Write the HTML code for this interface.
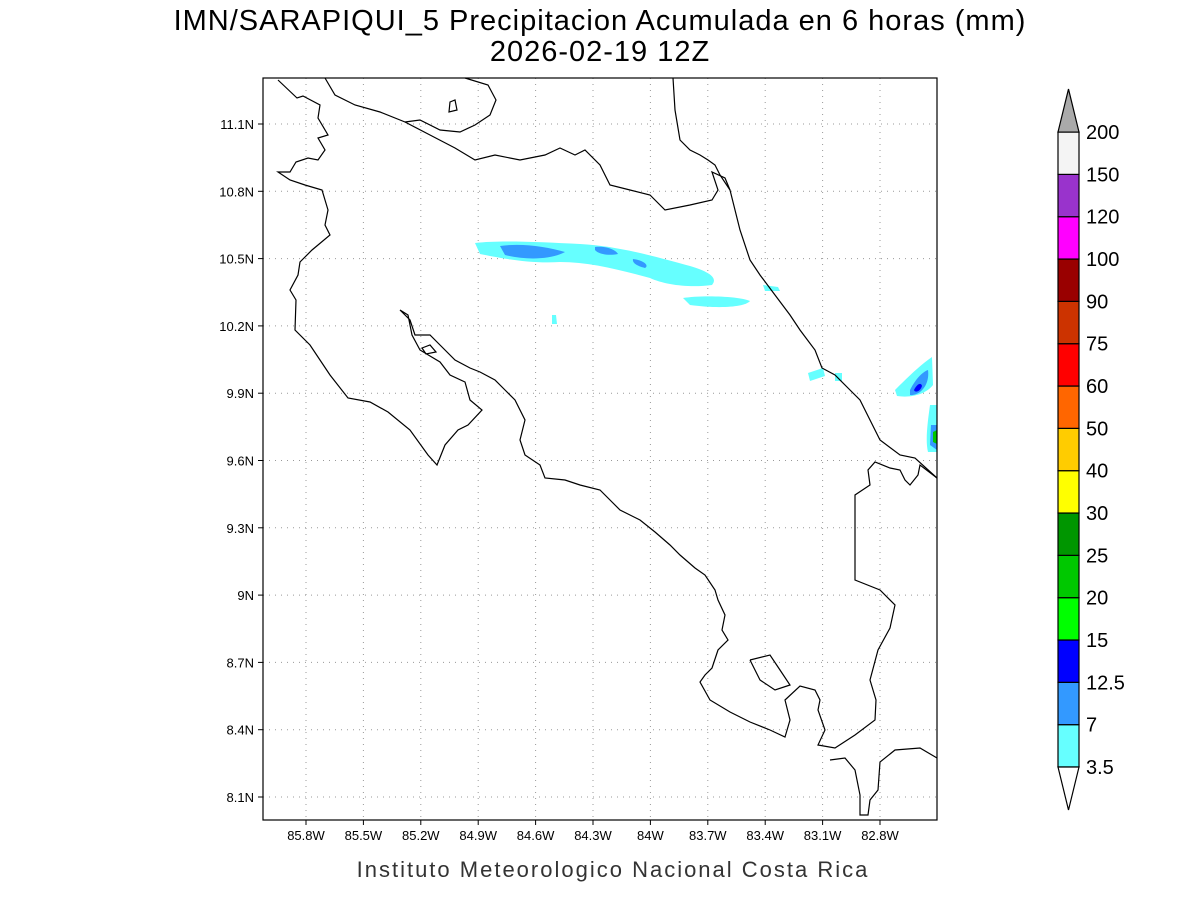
<!DOCTYPE html>
<html><head><meta charset="utf-8"><style>
body{margin:0;background:#fff;}
svg{display:block;font-family:"Liberation Sans",sans-serif;}
</style></head><body>
<svg width="1200" height="900" viewBox="0 0 1200 900">
<text x="600" y="30" font-size="29" text-anchor="middle" letter-spacing="1">IMN/SARAPIQUI_5 Precipitacion Acumulada en 6 horas (mm)</text>
<text x="600" y="61" font-size="29" text-anchor="middle" letter-spacing="1">2026-02-19 12Z</text>
<g id="grid"></g>
<g id="rain">
<path fill="#66ffff" d="M475,243 C500,240 540,242 580,244 C620,246 660,258 690,266 C710,272 718,278 712,285 C690,288 665,285 650,278 C620,270 590,262 560,262 C530,264 500,258 480,254 Z"/>
<path fill="#3399ff" d="M500,246 C520,243 545,246 565,252 C550,260 525,260 505,255 Z M595,247 C605,246 615,249 618,254 C608,256 598,254 595,250 Z M633,259 C642,260 650,265 645,268 C637,266 632,263 633,259 Z"/>
<path fill="#66ffff" d="M683,298 C700,295 740,296 750,301 C745,307 720,309 690,305 Z"/>
<path fill="#66ffff" d="M763,285 l15,2 l2,4 l-15,0 Z M552,315 l4,0 l1,9 l-5,0 Z M808,373 l15,-5 l2,8 l-15,5 Z M835,373 l7,0 l0,8 l-7,0 Z"/>
<path fill="#66ffff" d="M895,390 C905,380 920,365 932,357 L933,385 C925,395 910,398 897,396 Z M930,405 L937,405 L937,452 L928,452 C925,440 928,420 930,405 Z"/>
<path fill="#3399ff" d="M910,390 C915,380 922,372 928,370 C930,385 920,396 910,395 Z M931,425 L937,425 L937,450 L930,445 Z"/>
<path fill="#0000ff" d="M914,390 C917,384 921,382 922,386 C920,392 915,393 914,390 Z"/>
<path fill="#00c800" d="M933,432 L937,430 L937,444 L933,442 Z"/>
</g>
<g fill="none" stroke="#000" stroke-width="1.2">
<polyline points="278,80 297,98 303,96 320,105 318,118 328,135 318,138 325,150 318,160 308,158 296,162 290,172 278,172 290,180 305,185 322,190 328,210 325,225 330,235 318,245 312,250 300,262 298,275 290,290 296,300 295,330 310,345 330,375 348,398 370,402 388,412 410,430 428,455 437,465 445,445 458,430 468,425 482,410 470,400 465,382 450,375 440,362 430,356 420,350 412,335 408,315 400,310 410,320 415,335 430,335 440,345 455,360 470,368 480,372 495,380 505,390 515,400 525,420 520,440 525,455 540,465 545,478 565,480 580,485 600,490 610,500 620,510 640,520 655,532 670,545 680,555 695,568 705,575 715,590 718,600 725,615 722,630 728,640 718,650 712,668 705,675 700,682 710,700 730,712 750,722 770,730 785,737 790,720 785,700 800,686 815,690 820,700 818,710 825,730 818,745 835,748 855,735 875,720 876,700 870,680 878,650 890,628 895,605 880,590 855,580 855,495 870,485 868,470 875,462 890,468 900,470 905,480 910,485 918,475 920,465 937,478"/>
<polyline points="937,478 915,458 900,455 880,440 870,420 860,400 848,388 835,375 822,368 815,350 800,330 790,315 775,295 760,275 750,260 740,230 735,210 730,190 720,175 715,165 708,160 700,155 690,150 680,140 675,110 673,78"/>
<polyline points="325,78 335,95 355,105 380,112 405,122 430,135 455,148 475,160 495,155 520,160 545,155 560,148 575,155 585,150 600,165 610,185 630,190 650,195 665,210 690,205 712,200 718,190 712,172 725,178 730,190"/>
<polyline points="465,78 488,85 496,100 490,115 475,125 460,132 440,130 420,120 405,122"/>
<polyline points="750,660 770,655 780,670 790,685 775,690 760,680 750,660"/>
<polyline points="937,758 920,748 895,750 880,762 878,790 870,800 868,815 860,815 860,795 855,770 845,758 830,760"/>
<polygon points="450,102 455,100 457,110 449,112"/>
<polygon points="422,348 430,345 436,352 426,354"/>
</g>
<rect x="263" y="78" width="674" height="742" fill="none" stroke="#000" stroke-width="1.2"/>
<g id="axes" font-size="13"></g>
<g id="cbar" font-size="20"></g>
<text x="613" y="877" font-size="22" text-anchor="middle" letter-spacing="2" fill="#333">Instituto Meteorologico Nacional Costa Rica</text>
</svg>
<script>
const NS="http://www.w3.org/2000/svg";
const lonTicks=[85.8,85.5,85.2,84.9,84.6,84.3,84.0,83.7,83.4,83.1,82.8];
const lonLabels=["85.8W","85.5W","85.2W","84.9W","84.6W","84.3W","84W","83.7W","83.4W","83.1W","82.8W"];
const latTicks=[11.1,10.8,10.5,10.2,9.9,9.6,9.3,9.0,8.7,8.4,8.1];
const latLabels=["11.1N","10.8N","10.5N","10.2N","9.9N","9.6N","9.3N","9N","8.7N","8.4N","8.1N"];
const levels=["3.5","7","12.5","15","20","25","30","40","50","60","75","90","100","120","150","200"];
const colors=["#66ffff","#3399ff","#0000ff","#00ff00","#00c800","#009600","#ffff00","#ffcc00","#ff6600","#ff0000","#cc3300","#990000","#ff00ff","#9933cc","#f4f4f4"];
const xS=lon=>306+(85.8-lon)/0.3*57.4;
const yS=lat=>124+(11.1-lat)/0.3*67.3;
function el(t,a,p){const e=document.createElementNS(NS,t);for(const k in a)e.setAttribute(k,a[k]);p.appendChild(e);return e;}
const g=document.getElementById('grid'),ax=document.getElementById('axes'),cb=document.getElementById('cbar');
lonTicks.forEach((v,i)=>{const x=xS(v);
const l=el('line',{x1:x,x2:x,y1:78,y2:820,stroke:'#999','stroke-dasharray':'1 5'},g);


const t=el('line',{x1:x,x2:x,y1:820,y2:825,stroke:'#000'},ax);


const tx=el('text',{x:x,y:840,'text-anchor':'middle'},ax);tx.textContent=lonLabels[i];

});
latTicks.forEach((v,i)=>{const y=yS(v);
const l=el('line',{x1:263,x2:937,y1:y,y2:y,stroke:'#999','stroke-dasharray':'1 5'},g);


const t=el('line',{x1:258,x2:263,y1:y,y2:y,stroke:'#000'},ax);


const tx=el('text',{x:254,y:y+5,'text-anchor':'end'},ax);tx.textContent=latLabels[i];

});
const cx=1058,cw=21,cbBot=767,seg=42.33;
colors.forEach((c,i)=>{const r=el('rect',{x:cx,y:cbBot-(i+1)*seg,width:cw,height:seg,fill:c,stroke:'#000','stroke-width':1.2},cb);

});
const cbTop=cbBot-colors.length*seg;
const tu=el('polygon',{points:`${cx},${cbTop} ${cx+cw},${cbTop} ${cx+cw/2},${cbTop-43}`,fill:'#aaa',stroke:'#000','stroke-width':1.2},cb);


const td=el('polygon',{points:`${cx},${cbBot} ${cx+cw},${cbBot} ${cx+cw/2},${cbBot+43}`,fill:'#fff',stroke:'#000','stroke-width':1.2},cb);


levels.forEach((v,i)=>{const tx=el('text',{x:1086,y:cbBot-i*seg+7},cb);tx.textContent=v;

});
</script>
</body></html>
